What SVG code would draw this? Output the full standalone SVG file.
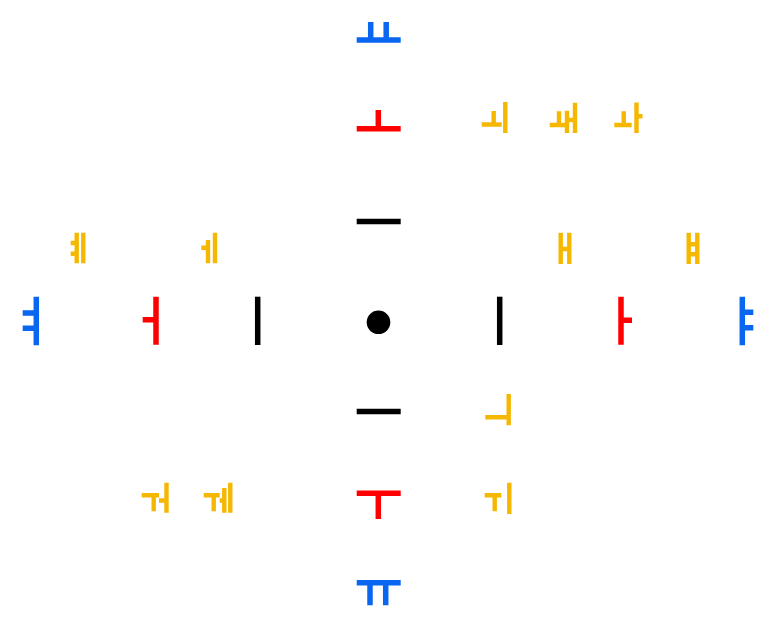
<svg xmlns="http://www.w3.org/2000/svg" width="770" height="627" viewBox="0 0 770 627">
<style>
.k{stroke:#000;stroke-width:5.5;fill:none}
.r{stroke:#ff0000;stroke-width:5.5;fill:none}
.b{stroke:#0866f0;stroke-width:5.5;fill:none}
.y{stroke:#f5b700;stroke-width:4.4;fill:none}
</style>
<rect width="770" height="627" fill="#fff"/>
<g id="center"><circle cx="378.5" cy="322.3" r="11.8" fill="#000"/></g>
<g id="yo"><path class="b" d="M356.7 40H400.7M370.7 22V40M386.2 22V40"/></g>
<g id="o"><path class="r" d="M356.7 128.7H400.7M378.3 110V128.7"/></g>
<g id="eu-top"><path class="k" d="M356.7 221.6H400.7"/></g>
<g id="eu-bottom"><path class="k" d="M356.7 411.4H400.7"/></g>
<g id="u"><path class="r" d="M356.7 493.3H400.7M378.3 493.3V519"/></g>
<g id="yu"><path class="b" d="M356.7 582.7H400.7M370 582.7V605.3M385.7 582.7V605.3"/></g>
<g id="i-left"><path class="k" d="M257.7 296.7V345"/></g>
<g id="i-right"><path class="k" d="M499.7 296.7V345"/></g>
<g id="eo"><path class="r" d="M156 296.7V344.7M142.7 319.7H156"/></g>
<g id="yeo"><path class="b" d="M36.3 296.7V345.3M22.7 313H36.3M22.7 328.3H36.3"/></g>
<g id="a"><path class="r" d="M621 296.7V344.7M621 320.3H632"/></g>
<g id="ya"><path class="b" d="M742.3 296.7V345.3M742.3 312.3H753.3M742.3 327.7H753.3"/></g>
<g id="oe"><path class="y" d="M481.7 124.5H501.7M493.7 111V124.5M505.3 102V133"/></g>
<g id="wae"><path class="y" d="M549.7 125H565M559 111.3V125M567 110.7V133M575 102.7V133M567 120H575"/></g>
<g id="wa"><path class="y" d="M614.3 125H631.7M623.7 111.3V125M636.5 102.5V133M636.5 116.3H642.5"/></g>
<g id="ye"><path class="y" d="M76.7 232.7V263.3M83.3 232.7V263.3M70.7 243H76.7M70.7 253.7H76.7"/></g>
<g id="e"><path class="y" d="M208 240V263.3M215 232.7V263.3M201.3 247.7H208"/></g>
<g id="ae"><path class="y" d="M560.7 232.7V264M569.3 232.7V264M560.7 249H569.3"/></g>
<g id="yae"><path class="y" d="M688.7 232.7V264M697.3 232.7V264M688.7 244.3H697.3M688.7 254.3H697.3"/></g>
<g id="ui"><path class="y" d="M508.7 394V425.3M485.3 417.3H508.7"/></g>
<g id="wi"><path class="y" d="M484.7 495.3H501.3M494.7 495.3V511.3M509.3 482.7V514"/></g>
<g id="wo"><path class="y" d="M141.7 495.3H159M153.7 495.3V511.3M166.5 482.7V512.7M159 500.5H166.5"/></g>
<g id="we"><path class="y" d="M203.7 495.3H219.7M213.7 495.3V511.3M224.3 488V512.7M230.3 482.7V512.7M219.7 500.5H224.3"/></g>
</svg>
